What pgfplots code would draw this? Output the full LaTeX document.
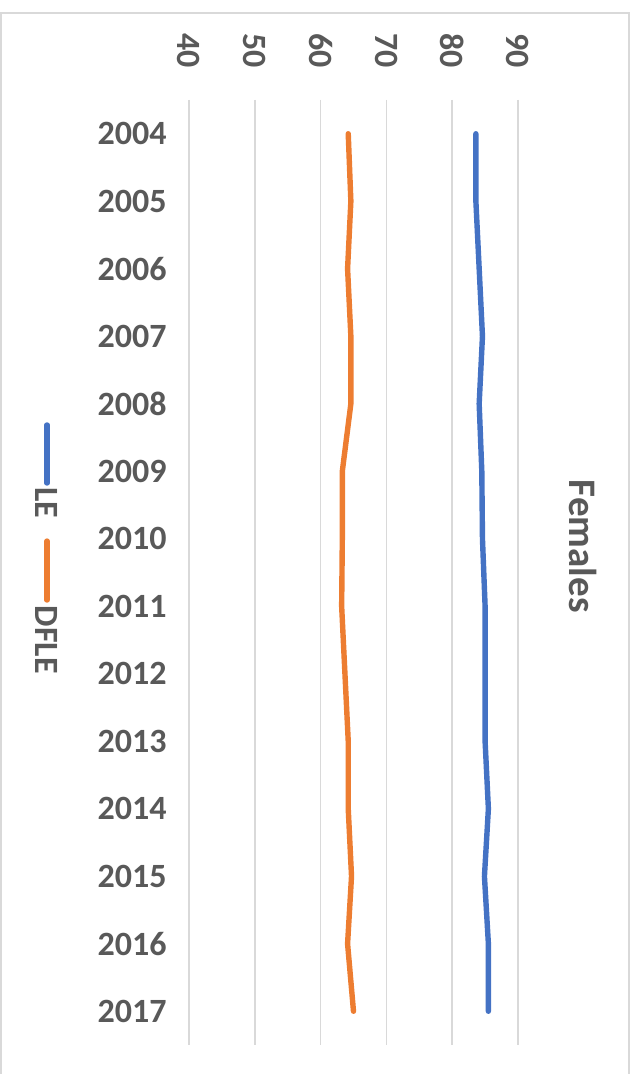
\documentclass[border=0pt]{standalone}
\usepackage{fontspec}
\setmainfont{Carlito}
\usepackage{pgfplots}
\usepackage{pgfplotstable}
\pgfplotsset{compat=1.18}

\definecolor{leblue}{HTML}{4472C4}
\definecolor{dfleorange}{HTML}{ED7D31}
\definecolor{txtgray}{HTML}{595959}
\definecolor{gridgray}{HTML}{D9D9D9}

\pgfplotstableread{
year LE   DFLE
2004 83.6 64.2
2005 83.6 64.6
2006 84.1 64.1
2007 84.6 64.6
2008 84.1 64.6
2009 84.5 63.3
2010 84.6 63.3
2011 85.0 63.2
2012 85.0 63.7
2013 85.0 64.2
2014 85.5 64.2
2015 84.9 64.7
2016 85.5 64.1
2017 85.5 65.0
}\females

\begin{document}
\begin{tikzpicture}
\useasboundingbox (-94.5pt,-14.5pt) rectangle (222pt,522.5pt);
\draw[gridgray, line width=0.8pt] (-94pt,-14.5pt) -- (-94pt,516pt) -- (220pt,516pt) -- (220pt,-14.5pt);
\begin{axis}[
    at={(0pt,0pt)}, anchor=south west,
    scale only axis,
    width=164.5pt, height=472.5pt,
    clip=false,
    xmin=40, xmax=90,
    ymin=2003.5, ymax=2017.5,
    y dir=reverse,
    xtick={40,50,...,90},
    xticklabels={\textbf{40},\textbf{50},\textbf{60},\textbf{70},\textbf{80},\textbf{90}},
    ytick={2004,...,2017},
    xticklabel pos=upper,
    xmajorgrids,
    grid style={gridgray, line width=0.9pt},
    axis line style={draw=none},
    tick style={draw=none},
    /pgf/number format/1000 sep={},
    /pgf/number format/assume math mode=true,
    ticklabel style={font=\fontsize{17}{20}\selectfont\bfseries, text=txtgray, inner sep=0pt},
    xticklabel style={rotate=-90, anchor=east},
    xticklabel shift=16pt,
    yticklabel style={anchor=east},
    yticklabel shift=11pt,
    title=Females,
    title style={at={(axis description cs:1.1976,0.515)}, anchor=center, rotate=-90,
        font=\fontsize{19.5}{22}\selectfont\bfseries, text=txtgray},
]
\addplot[leblue, line width=2.7pt, line join=round, line cap=round] table[x=LE, y=year] {\females};
\addplot[dfleorange, line width=2.7pt, line join=round, line cap=round] table[x=DFLE, y=year] {\females};
% legend, turned like the rest of the chart
\draw[leblue, line width=2.7pt, line cap=round]
    (axis description cs:-0.4316,0.6561) -- (axis description cs:-0.4316,0.5947);
\node[rotate=-90, anchor=center, text=txtgray, font=\fontsize{17}{20}\selectfont\bfseries]
    at (axis description cs:-0.4316,0.5735) {LE};
\draw[dfleorange, line width=2.7pt, line cap=round]
    (axis description cs:-0.4316,0.5333) -- (axis description cs:-0.4316,0.4709);
\node[rotate=-90, anchor=center, text=txtgray, font=\fontsize{17}{20}\selectfont\bfseries]
    at (axis description cs:-0.4316,0.4286) {DFLE};
\end{axis}
\end{tikzpicture}
\end{document}
